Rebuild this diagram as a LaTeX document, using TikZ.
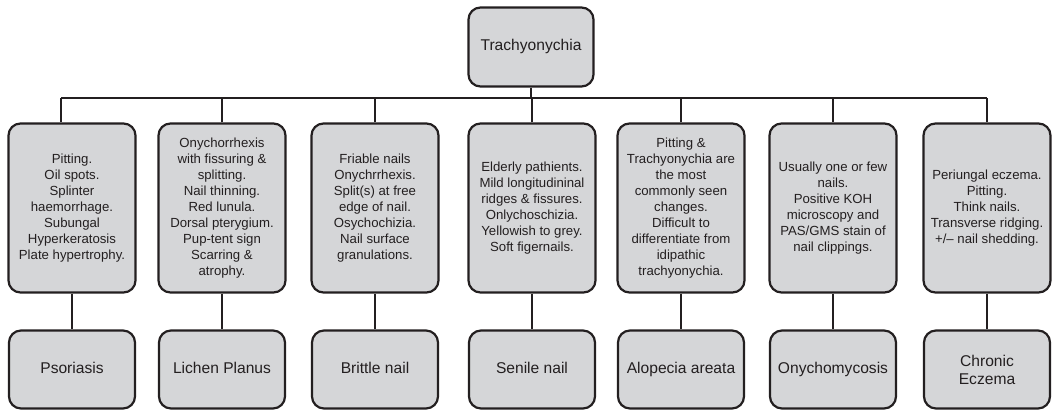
\documentclass[tikz,border=0pt]{standalone}
\usepackage{fontspec}
\setmainfont{Liberation Sans}
\definecolor{boxfill}{HTML}{D5D6D8}
\definecolor{ink}{HTML}{231F20}
\begin{document}
\begin{tikzpicture}[x=1pt,y=-1pt,
  box/.style={draw=ink,fill=boxfill,line width=2.2pt,rounded corners=12pt,align=center,text=ink,inner sep=2pt},
  midbox/.style={box,minimum width=127pt,minimum height=169pt,font=\fontsize{13.2}{16}\selectfont},
  endbox/.style={box,minimum width=126pt,minimum height=78pt,font=\fontsize{15.6}{18}\selectfont},
  onebox/.style={endbox,text height=11.5pt,text depth=3.5pt},
  link/.style={draw=ink,line width=2.2pt}]
\useasboundingbox (0,0) rectangle (1052,411);
\node[onebox,minimum width=125pt,minimum height=79pt] (root) at (531,47) {Trachyonychia};
\coordinate (busL) at (61,98);
\coordinate (busR) at (987,98);

\node[midbox] (m1) at (72,208) {Pitting.\\Oil spots.\\Splinter\\haemorrhage.\\Subungal\\Hyperkeratosis\\Plate hypertrophy.};
\node[midbox] (m2) at (222,208) {Onychorrhexis\\with fissuring \&\\splitting.\\Nail thinning.\\Red lunula.\\Dorsal pterygium.\\Pup-tent sign\\Scarring \&\\atrophy.};
\node[midbox] (m3) at (375,208) {Friable nails\\Onychrrhexis.\\Split(s) at free\\edge of nail.\\Osychochizia.\\Nail surface\\granulations.};
\node[midbox] (m4) at (532,208) {Elderly pathients.\\Mild longitudininal\\ridges \& fissures.\\Onlychoschizia.\\Yellowish to grey.\\Soft figernails.};
\node[midbox] (m5) at (681,208) {Pitting \&\\Trachyonychia are\\the most\\commonly seen\\changes.\\Difficult to\\differentiate from\\idipathic\\trachyonychia.};
\node[midbox] (m6) at (833,208) {Usually one or few\\nails.\\Positive KOH\\microscopy and\\PAS/GMS stain of\\nail clippings.};
\node[midbox] (m7) at (987,208) {Periungal eczema.\\Pitting.\\Think nails.\\Transverse ridging.\\+/-- nail shedding.};

\node[onebox] (b1) at (72,369.5) {Psoriasis};
\node[onebox] (b2) at (222,369.5) {Lichen Planus};
\node[onebox] (b3) at (375,369.5) {Brittle nail};
\node[onebox] (b4) at (532,369.5) {Senile nail};
\node[onebox] (b5) at (681,369.5) {Alopecia areata};
\node[onebox] (b6) at (833,369.5) {Onychomycosis};
\node[endbox] (b7) at (987,369.5) {Chronic\\Eczema};

\draw[link] (busL) -- (busR);
\draw[link] (root.south) -- (root.south |- busL);
\draw[link] (busL) -- (busL |- m1.north);
\foreach \i in {2,...,7} {\draw[link] (m\i.north) -- (m\i.north |- busL);}
\foreach \i in {1,...,7} {\draw[link] (m\i.south) -- (b\i.north);}
\end{tikzpicture}
\end{document}
